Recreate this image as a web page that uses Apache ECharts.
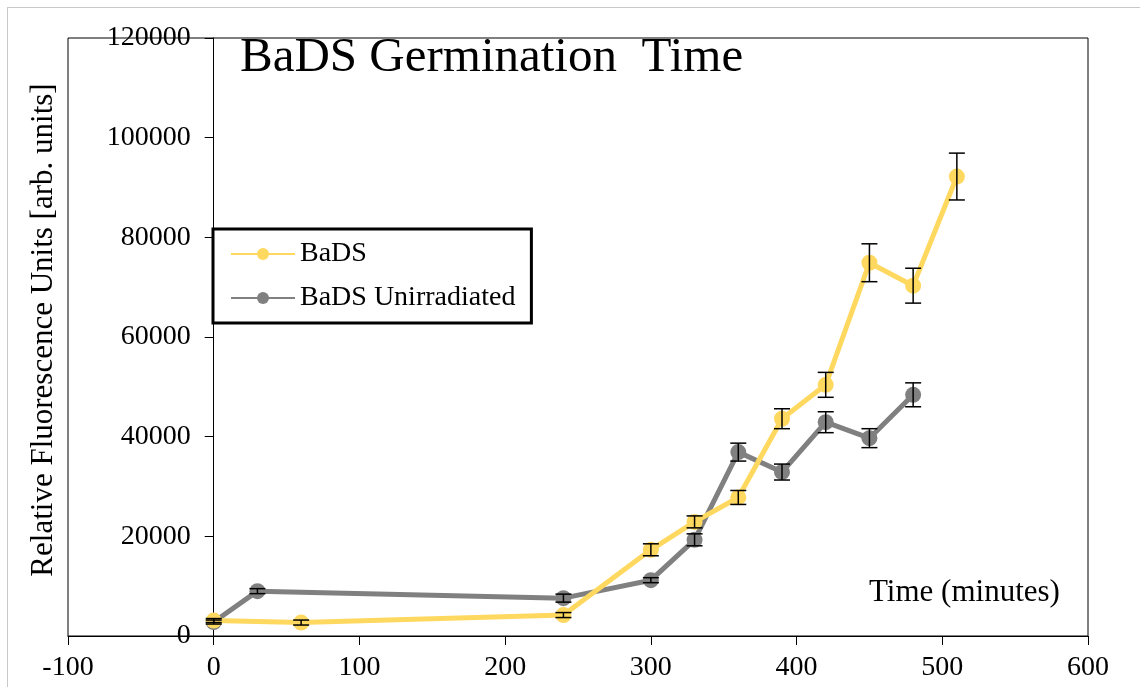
<!DOCTYPE html>
<html>
<head>
<meta charset="utf-8">
<script src="https://cdn.jsdelivr.net/npm/echarts@6/dist/echarts.min.js"></script>
<style>
  html, body { margin: 0; padding: 0; background: #fff; }
  #frame { position: absolute; left: 7px; top: 7px; width: 1140px; height: 687px; border: 1px solid #c8c8c8; box-sizing: border-box; }
  #chart { position: absolute; left: 0; top: 0; width: 1140px; height: 687px; }
</style>
</head>
<body>
<div id="frame"></div>
<div id="chart"></div>
<script>
// time in minutes
const timeBaDS = [0, 60, 240, 300, 330, 360, 390, 420, 450, 480, 510]
const valBaDS = [3100, 2700, 4200, 17300, 22900, 27800, 43600, 50400, 74900, 70300, 92200]
const errBaDS = [400, 500, 500, 1200, 1200, 1400, 2000, 2500, 3800, 3500, 4700]

const timeUnirr = [0, 30, 240, 300, 330, 360, 390, 420, 450, 480]
const valUnirr = [2800, 9000, 7600, 11200, 19300, 36900, 32900, 42900, 39700, 48400]
const errUnirr = [400, 500, 800, 500, 1200, 1800, 1600, 2100, 1900, 2400]

const seriesNames = ['BaDS', 'BaDS Unirradiated']
const yellow = '#FFD85F'
const grey = '#808080'
const serif = '"Liberation Serif", "Times New Roman", serif'

const gridLeft = 68, gridRight = 52
const xMin = -100, xMax = 600

function pairs(xs, ys) {
    return xs.map((x, i) => [x, ys[i]])
}
function errData(xs, ys, es) {
    return xs.map((x, i) => [x, ys[i] - es[i], ys[i] + es[i]])
}

function drawErr(params, api) {
    let lo = api.coord([api.value(0), api.value(1)])
    let hi = api.coord([api.value(0), api.value(2)])
    let w = 8
    let st = { stroke: '#000', lineWidth: 1.5 }
    return {
        type: 'group',
        children: [
            { type: 'line', shape: { x1: lo[0], y1: lo[1], x2: hi[0], y2: hi[1] }, style: st },
            { type: 'line', shape: { x1: lo[0] - w, y1: lo[1], x2: lo[0] + w, y2: lo[1] }, style: st },
            { type: 'line', shape: { x1: hi[0] - w, y1: hi[1], x2: hi[0] + w, y2: hi[1] }, style: st }
        ]
    }
}

// the y axis sits at x = 0, inside the plot box
const plotWidth = 1140 - gridLeft - gridRight
const yOffset = -plotWidth * (0 - xMin) / (xMax - xMin)

let chart = echarts.init(document.getElementById('chart'))
let option = {
    animation: false,
    grid: {
        left: gridLeft, right: gridRight, top: 38, bottom: 51,
        containLabel: false,
        outerBoundsMode: 'none',
        show: true,
        borderColor: '#000',
        borderWidth: 1
    },
    legend: {
        data: seriesNames,
        orient: 'vertical',
        left: 213,
        top: 229,
        padding: [11, 16, 11, 17],
        itemGap: 16,
        itemWidth: 64,
        itemHeight: 15,
        borderColor: '#000',
        borderWidth: 3,
        backgroundColor: '#fff',
        textStyle: { fontFamily: serif, fontSize: 28, color: '#000' }
    },
    xAxis: {
        type: 'value',
        min: xMin,
        max: xMax,
        interval: 100,
        splitLine: { show: false },
        axisLine: { onZero: true, lineStyle: { color: '#000', width: 1 } },
        axisTick: { length: 9, lineStyle: { color: '#000' } },
        axisLabel: { margin: 18, color: '#000', fontFamily: serif, fontSize: 28 }
    },
    yAxis: {
        type: 'value',
        min: 0,
        max: 120000,
        interval: 20000,
        offset: yOffset,
        splitLine: { show: false },
        axisLine: { show: true, onZero: false, lineStyle: { color: '#000', width: 1 } },
        axisTick: { show: true, length: 9, lineStyle: { color: '#000' } },
        axisLabel: {
            margin: 23, color: '#000', fontFamily: serif, fontSize: 28,
            formatter: v => String(v)
        }
    },
    graphic: [
        {
            type: 'text', x: 240, y: 58,
            style: { text: 'BaDS Germination  Time', font: '49px ' + serif, fill: '#000', align: 'left', verticalAlign: 'middle' }
        },
        {
            type: 'text', x: 44, y: 330, rotation: Math.PI / 2,
            style: { text: 'Relative Fluorescence Units [arb. units]', font: '31px ' + serif, fill: '#000', align: 'center', verticalAlign: 'middle' }
        },
        {
            type: 'text', x: 869, y: 593,
            style: { text: 'Time (minutes)', font: '31px ' + serif, fill: '#000', align: 'left', verticalAlign: 'middle' }
        }
    ],
    series: [
        {
            name: seriesNames[0],
            type: 'line',
            data: pairs(timeBaDS, valBaDS),
            color: yellow,
            symbol: 'circle',
            symbolSize: 16,
            lineStyle: { width: 5, color: yellow },
            z: 3
        },
        {
            name: seriesNames[1],
            type: 'line',
            data: pairs(timeUnirr, valUnirr),
            color: grey,
            symbol: 'circle',
            symbolSize: 16,
            lineStyle: { width: 5, color: grey },
            z: 2
        },
        {
            type: 'custom',
            renderItem: drawErr,
            data: errData(timeBaDS, valBaDS, errBaDS),
            z: 10
        },
        {
            type: 'custom',
            renderItem: drawErr,
            data: errData(timeUnirr, valUnirr, errUnirr),
            z: 10
        }
    ]
}
chart.setOption(option)
</script>
</body>
</html>
